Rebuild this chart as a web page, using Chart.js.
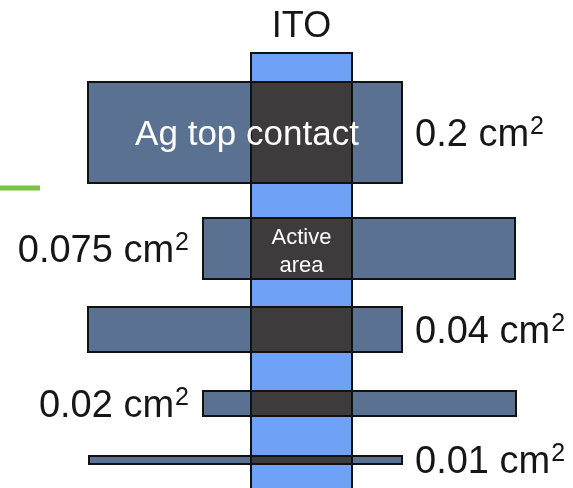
<!DOCTYPE html>
<html>
<head>
<meta charset="utf-8">
<script src="https://cdn.jsdelivr.net/npm/chart.js@4.4.1/dist/chart.umd.min.js"></script>
<style>
  html, body { margin: 0; padding: 0; background: #fff; }
  #wrap { width: 573px; height: 488px; }
</style>
</head>
<body>
<div id="wrap"><canvas id="sketch" width="573" height="488"></canvas></div>
<script>
// contact pads, top to bottom
const contactLabels = ['0.2 cm', '0.075 cm', '0.04 cm', '0.02 cm', '0.01 cm'];
const labelSide = ['right', 'left', 'right', 'left', 'right'];
const contactLeft = [88, 203, 88, 203, 89];
const contactRight = [402, 515, 402, 516, 402];
const contactTop = [82, 218, 307, 391, 456];
const contactBottom = [183, 279, 352, 416, 464];
// ITO stripe
const itoX = [251, 352];
const itoY = [53, 495];
// green accent at the left edge
const accentX = [0, 40];
const accentY = 188;

const ITO_BLUE = '#6fa1f7';
const AG_GREY = '#5a7192';
const OVERLAP = '#3d3b3b';
const EDGE = '#111';

function rect(x0, x1, y0, y1) {
  return [{x: x0, y: y0}, {x: x1, y: y0}, {x: x1, y: y1}, {x: x0, y: y1}, {x: x0, y: y0}];
}

function box(data, color, order) {
  return {
    data: data,
    backgroundColor: color,
    borderColor: EDGE,
    borderWidth: 2,
    borderCapStyle: 'square',
    borderJoinStyle: 'miter',
    fill: 'shape',
    showLine: true,
    pointRadius: 0,
    order: order
  };
}

const datasets = [];
datasets.push({
  data: [{x: accentX[0], y: accentY}, {x: accentX[1], y: accentY}],
  borderColor: '#7cc143',
  borderWidth: 5,
  fill: false,
  showLine: true,
  pointRadius: 0,
  order: 3
});
datasets.push(box(rect(itoX[0], itoX[1], itoY[0], itoY[1]), ITO_BLUE, 2));
contactLabels.forEach((label, i) => {
  datasets.push(box(rect(contactLeft[i], contactRight[i], contactTop[i], contactBottom[i]), AG_GREY, 1));
  const ox0 = Math.max(contactLeft[i], itoX[0]);
  const ox1 = Math.min(contactRight[i], itoX[1]);
  datasets.push(box(rect(ox0, ox1, contactTop[i], contactBottom[i]), OVERLAP, 0));
});

const labelPlugin = {
  id: 'sketchLabels',
  afterDatasetsDraw(chart) {
    const {ctx, scales: {x, y}} = chart;
    const family = '"Liberation Sans", Arial, sans-serif';
    ctx.save();
    ctx.textBaseline = 'alphabetic';

    // area labels with superscript 2
    ctx.fillStyle = '#161616';
    ctx.textAlign = 'left';
    contactLabels.forEach((text, i) => {
      const cy = y.getPixelForValue((contactTop[i] + contactBottom[i]) / 2);
      ctx.font = '38px ' + family;
      const w = ctx.measureText(text).width;
      ctx.font = '25px ' + family;
      const sw = ctx.measureText('2').width;
      let sx;
      if (labelSide[i] === 'right') {
        sx = x.getPixelForValue(contactRight[i]) + 13;
      } else {
        sx = x.getPixelForValue(contactLeft[i]) - 14 - w - sw - 1;
      }
      const base = cy + 13;
      ctx.font = '38px ' + family;
      ctx.fillText(text, sx, base);
      ctx.font = '25px ' + family;
      ctx.fillText('2', sx + w + 1, base - 12);
    });

    // ITO title
    const itoMid = x.getPixelForValue((itoX[0] + itoX[1]) / 2);
    ctx.textAlign = 'center';
    ctx.font = '36px ' + family;
    ctx.fillText('ITO', itoMid, y.getPixelForValue(itoY[0]) - 16);

    // texts inside the pads
    ctx.fillStyle = '#fff';
    ctx.font = '35px ' + family;
    const topMid = x.getPixelForValue((contactLeft[0] + contactRight[0]) / 2) + 2;
    const topCy = y.getPixelForValue((contactTop[0] + contactBottom[0]) / 2);
    ctx.fillText('Ag top contact', topMid, topCy + 12.5);

    const actCy = y.getPixelForValue((contactTop[1] + contactBottom[1]) / 2);
    ctx.font = '22px ' + family;
    ctx.fillText('Active', itoMid, actCy - 5);
    ctx.fillText('area', itoMid, actCy + 23);
    ctx.restore();
  }
};

new Chart(document.getElementById('sketch').getContext('2d'), {
  type: 'scatter',
  data: { datasets: datasets },
  options: {
    responsive: false,
    animation: false,
    layout: { padding: 0 },
    elements: { line: { tension: 0 } },
    plugins: {
      legend: { display: false },
      tooltip: { enabled: false }
    },
    scales: {
      x: { type: 'linear', min: 0, max: 573, display: false },
      y: { type: 'linear', min: 0, max: 488, reverse: true, display: false }
    }
  },
  plugins: [labelPlugin]
});
</script>
</body>
</html>
